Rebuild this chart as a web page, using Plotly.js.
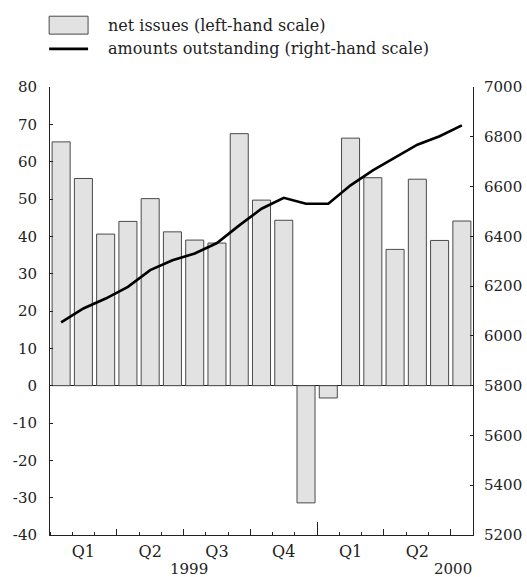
<!DOCTYPE html>
<html>
<head>
<meta charset="utf-8">
<script src="https://cdn.plot.ly/plotly-3.0.1.min.js"></script>
<style>
  html, body { margin: 0; padding: 0; background: #fff; }
  #chart { width: 527px; height: 577px; }
</style>
</head>
<body>
<div id="chart"></div>
<script>
// Monthly data, Jan 1999 - Jul 2000
const months = ['1999-01', '1999-02', '1999-03', '1999-04', '1999-05', '1999-06',
                '1999-07', '1999-08', '1999-09', '1999-10', '1999-11', '1999-12',
                '2000-01', '2000-02', '2000-03', '2000-04', '2000-05', '2000-06', '2000-07'];
const netIssues = [65.3, 55.5, 40.6, 44.0, 50.1, 41.2, 39.0, 38.2, 67.5, 49.7,
                   44.3, -31.4, -3.3, 66.3, 55.7, 36.5, 55.3, 38.9, 44.1];
const outstanding = [6054, 6110, 6150, 6197, 6264, 6304, 6331, 6373, 6444, 6511,
                     6555, 6531, 6531, 6605, 6665, 6716, 6768, 6802, 6846];
const quarterLabels = ['Q1', 'Q2', 'Q3', 'Q4', 'Q1', 'Q2'];
const yearLabels = ['1999', '2000'];
const leftTicks = [-40, -30, -20, -10, 0, 10, 20, 30, 40, 50, 60, 70, 80];
const rightTicks = [5200, 5400, 5600, 5800, 6000, 6200, 6400, 6600, 6800, 7000];
const legendNames = ['net issues (left-hand scale)', 'amounts outstanding (right-hand scale)'];

const idx = months.map((m, i) => i);
// tick positions derived from the month list
const monthBounds = idx.concat([months.length]).map(i => i - 0.5);
const quarterBounds = [], yearBounds = [], quarterMids = [];
months.forEach((m, i) => {
    const mo = parseInt(m.slice(5), 10);
    if ((mo - 1) % 3 === 0) quarterBounds.push(i - 0.5);
    if (mo === 1) yearBounds.push(i - 0.5);
    if ((mo - 2) % 3 === 0 && i < months.length - 1) quarterMids.push(i);
});

const font = 'DejaVu Serif';
const fs = 16;
const tfs = 15;
const ink = '#222';
const xr = [-0.5, months.length - 0.5];

const bars = {
    x: idx, y: netIssues, type: 'bar', name: legendNames[0],
    marker: { color: '#e2e2e2', line: { color: '#4a4a4a', width: 1 } },
    showlegend: false, hoverinfo: 'skip'
};
const line = {
    x: idx, y: outstanding, type: 'scatter', mode: 'lines', yaxis: 'y2',
    name: legendNames[1], line: { color: '#000', width: 2.6 },
    showlegend: false, hoverinfo: 'skip'
};
// invisible carriers so the extra tick axes are drawn
const ghost = ax => ({
    x: xr, y: [0, 0], xaxis: ax, type: 'scatter', mode: 'markers',
    marker: { opacity: 0 }, showlegend: false, hoverinfo: 'skip'
});

const tickAxis = (vals, len) => ({
    overlaying: 'x', anchor: 'y', side: 'bottom', range: xr,
    tickmode: 'array', tickvals: vals, ticks: 'inside', ticklen: len,
    tickcolor: ink, tickwidth: 1, showticklabels: false,
    showline: false, showgrid: false, zeroline: false, fixedrange: true
});

const layout = {
    width: 527, height: 577,
    margin: { l: 50, r: 54, t: 87, b: 42 },
    paper_bgcolor: '#fff', plot_bgcolor: '#fff',
    font: { family: font, size: fs, color: ink },
    bargap: 0.19,
    showlegend: false,
    xaxis: {
        range: xr, tickmode: 'array', tickvals: quarterMids, ticktext: quarterLabels,
        ticks: '', ticklabelstandoff: 2, tickfont: { size: fs },
        minor: { tickmode: 'array', tickvals: monthBounds, ticks: 'inside', ticklen: 3,
                 tickcolor: ink, tickwidth: 1, showgrid: false },
        showline: true, linecolor: ink, linewidth: 1, mirror: false,
        showgrid: false, zeroline: false
    },
    xaxis2: tickAxis(quarterBounds, 6),
    xaxis3: tickAxis(yearBounds, 13),
    yaxis: {
        range: [leftTicks[0], leftTicks[leftTicks.length - 1]],
        tickmode: 'array', tickvals: leftTicks, ticktext: leftTicks.map(String),
        tickfont: { size: tfs },
        ticks: 'inside', ticklen: 3, tickcolor: ink, ticklabelstandoff: 9,
        showline: true, linecolor: ink, linewidth: 1,
        showgrid: false, zeroline: true, zerolinecolor: ink, zerolinewidth: 1
    },
    yaxis2: {
        overlaying: 'y', side: 'right',
        range: [rightTicks[0], rightTicks[rightTicks.length - 1]],
        tickmode: 'array', tickvals: rightTicks, ticktext: rightTicks.map(String),
        tickfont: { size: tfs },
        ticks: 'inside', ticklen: 3, tickcolor: ink, ticklabelstandoff: 7,
        showline: true, linecolor: ink, linewidth: 1,
        showgrid: false, zeroline: false
    },
    shapes: [
        { type: 'rect', xref: 'paper', yref: 'paper', x0: -0.002, x1: 0.090, y0: 1.118, y1: 1.158,
          fillcolor: '#e2e2e2', line: { color: '#4a4a4a', width: 1 } },
        { type: 'line', xref: 'paper', yref: 'paper', x0: -0.002, x1: 0.090, y0: 1.085, y1: 1.085,
          line: { color: '#000', width: 2.6 } }
    ],
    annotations: [
        { text: legendNames[0], xref: 'paper', yref: 'paper', x: 0.132, y: 1.138,
          xanchor: 'left', yanchor: 'middle', showarrow: false },
        { text: legendNames[1], xref: 'paper', yref: 'paper', x: 0.132, y: 1.085,
          xanchor: 'left', yanchor: 'middle', showarrow: false },
        { text: yearLabels[0], xref: 'x', yref: 'paper', x: 5.73, y: -0.075,
          xanchor: 'center', yanchor: 'middle', showarrow: false, font: { size: tfs } },
        { text: yearLabels[1], xref: 'x', yref: 'paper', x: 17.6, y: -0.075,
          xanchor: 'center', yanchor: 'middle', showarrow: false, font: { size: tfs } }
    ]
};

Plotly.newPlot('chart', [bars, line, ghost('x2'), ghost('x3')], layout,
               { staticPlot: true, displayModeBar: false });
</script>
</body>
</html>
